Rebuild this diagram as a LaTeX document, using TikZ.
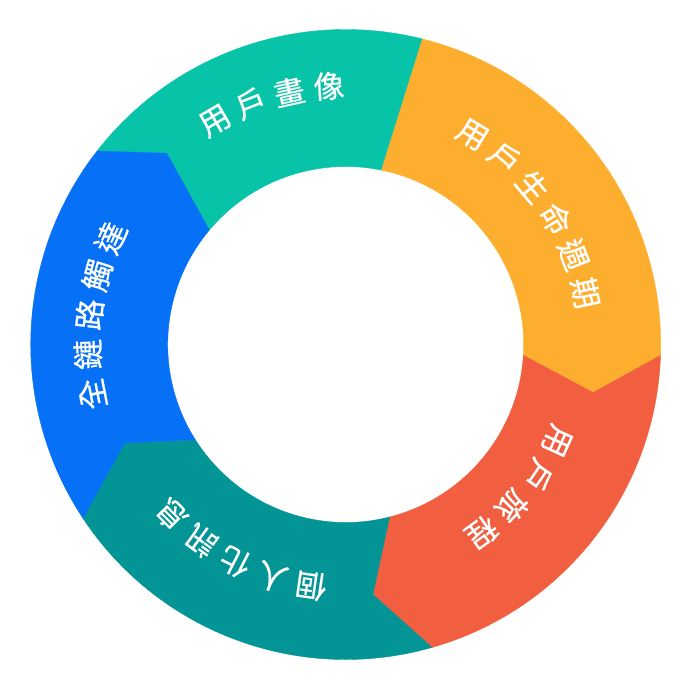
\documentclass[tikz,border=0pt]{standalone}
\usepackage{fontspec}
\newfontfamily\cjkfont[FakeBold=0.6]{Noto Sans CJK TC}
\definecolor{tealc}{HTML}{07C3A8}
\definecolor{orangec}{HTML}{FDAE2E}
\definecolor{redc}{HTML}{F15E40}
\definecolor{dktealc}{HTML}{039496}
\definecolor{bluec}{HTML}{0670F7}
\begin{document}
\begin{tikzpicture}[x=1bp,y=1bp,
  lbl/.style={text=white, font=\cjkfont\fontsize{31}{31}\selectfont, inner sep=0pt},
  seg/.style={draw=#1, fill=#1, line width=0.4bp}]
\useasboundingbox (-345.7,-344.5) rectangle (347.3,344.5);
\def\R{315}
\def\r{178}
% boundary points: outer (o), tip (t), inner (i)
\coordinate (b1o) at (75.9:\R);
\coordinate (b1i) at (78.4:\r);
\coordinate (b2o) at (-2:\R);
\coordinate (b2t) at (-11:252);
\coordinate (b2i) at (-3.5:\r);
\coordinate (b3o) at (-74.1:\R);
\coordinate (b3t) at (-83.8:251.5);
\coordinate (b3i) at (-75.7:\r);
\coordinate (b4o) at (-146.5:\R);
\coordinate (b4t) at (-156:242);
\coordinate (b4i) at (-147.6:\r);
\coordinate (b5o) at (142.1:\R);
\coordinate (b5t) at (133.1:262);
\coordinate (b5i) at (140:\r);
% segments
\path[seg=tealc] (b5o) arc[start angle=142.1, end angle=75.9, radius=\R] -- (b1i)
  arc[start angle=78.4, end angle=140, radius=\r] -- (b5t) -- cycle;
\path[seg=orangec] (b1o) arc[start angle=75.9, end angle=-2, radius=\R] -- (b2t) -- (b2i)
  arc[start angle=-3.5, end angle=78.4, radius=\r] -- cycle;
\path[seg=redc] (b2o) arc[start angle=-2, end angle=-74.1, radius=\R] -- (b3t) -- (b3i)
  arc[start angle=-75.7, end angle=-3.5, radius=\r] -- (b2t) -- cycle;
\path[seg=dktealc] (b3o) arc[start angle=-74.1, end angle=-146.5, radius=\R] -- (b4t) -- (b4i)
  arc[start angle=-147.6, end angle=-75.7, radius=\r] -- (b3t) -- cycle;
\path[seg=bluec] (b4o) arc[start angle=-146.5, end angle=-217.9, radius=\R] -- (b5t) -- (b5i)
  arc[start angle=-220, end angle=-147.6, radius=\r] -- (b4t) -- cycle;
% labels
\foreach \c [count=\i from 0] in {用,戶,畫,像}{
  \pgfmathsetmacro\a{120.3-\i*8.85}
  \node[lbl, rotate=\a-90] (ta\i) at (\a:259) {\c};
}
\foreach \c [count=\i from 0] in {用,戶,生,命,週,期}{
  \pgfmathsetmacro\a{58.9-\i*9.35}
  \node[lbl, rotate=\a-90] (tb\i) at (\a:245) {\c};
}
\foreach \c [count=\i from 0] in {用,戶,旅,程}{
  \pgfmathsetmacro\a{-24.5-\i*9.88}
  \node[lbl, rotate=\a-90] (tc\i) at (\a:232) {\c};
}
\foreach \c [count=\i from 0] in {個,人,化,訊,息}{
  \pgfmathsetmacro\a{-98.2-\i*9.39}
  \node[lbl, rotate=\a-90] (td\i) at (\a:244) {\c};
}
\foreach \c [count=\i from 0] in {全,鏈,路,觸,達}{
  \pgfmathsetmacro\a{191.1-\i*8.88}
  \node[lbl, rotate=\a-90] (te\i) at (\a:258) {\c};
}
\end{tikzpicture}
\end{document}
